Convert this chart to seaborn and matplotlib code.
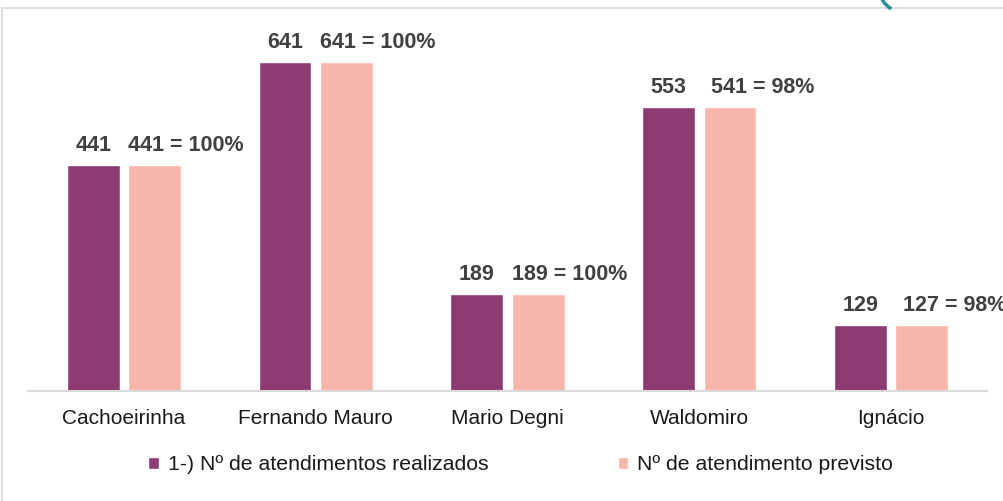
import pandas as pd
import seaborn as sns
import matplotlib.pyplot as plt
from matplotlib.patches import Rectangle, Arc

escolas = ["Cachoeirinha", "Fernando Mauro", "Mario Degni", "Waldomiro", "Ignácio"]
realizados = [441, 641, 189, 553, 129]
#pink bars are drawn at the same height as the realized ones in the original
previsto_altura = [441, 641, 189, 553, 129]
previsto_rotulo = ["441 = 100%", "641 = 100%", "189 = 100%", "541 = 98%", "127 = 98%"]
serie_a = "1-) Nº de atendimentos realizados"
serie_b = "Nº de atendimento previsto"

cor_a = "#8E3A73"
cor_b = "#F8B6AB"

sns.set_style("white")
plt.rcParams["font.family"] = ["Liberation Sans", "DejaVu Sans"]

df = pd.DataFrame({
    "escola": escolas * 2,
    "valor": realizados + previsto_altura,
    "serie": [serie_a] * len(escolas) + [serie_b] * len(escolas),
})

fig = plt.figure(figsize=(10.04, 5.01), dpi=100)
ax = fig.add_axes([0.0279, 0.2196, 0.9552, 0.7404])

sns.barplot(data=df, x="escola", y="valor", hue="serie",
            palette=[cor_a, cor_b], width=0.64, gap=0.14,
            saturation=1, ax=ax)

ax.set_ylim(0, 723)
ax.set_xlim(-0.5, len(escolas) - 0.5)
ax.set_xlabel("")
ax.set_ylabel("")
ax.set_yticks([])
sns.despine(ax=ax, left=True)
ax.spines["bottom"].set_color("#d9d9d9")
ax.spines["bottom"].set_linewidth(1.5)
ax.tick_params(axis="x", length=0, pad=13, labelsize=15, labelcolor="#1a1a1a")

#value labels
for bar, v in zip(ax.containers[0], realizados):
    ax.annotate(str(v), (bar.get_x() + bar.get_width() / 2, bar.get_height()),
                xytext=(0, 10), textcoords="offset points",
                ha="center", va="baseline", fontsize=15.5, fontweight="bold",
                color="#404040", annotation_clip=False)
for bar, txt in zip(ax.containers[1], previsto_rotulo):
    dx = 0 if "100%" in txt else 5.5
    ax.annotate(txt, (bar.get_x(), bar.get_height()),
                xytext=(dx, 10), textcoords="offset points",
                ha="left", va="baseline", fontsize=15.5, fontweight="bold",
                color="#404040", annotation_clip=False)

sns.move_legend(ax, "center", bbox_to_anchor=(0.5185, 0.072),
                bbox_transform=fig.transFigure, ncol=2, frameon=False,
                title=None, fontsize=15.3, handlelength=0.5, handleheight=0.5,
                handletextpad=0.4, columnspacing=6.1)
for t in ax.get_legend().get_texts():
    t.set_color("#1a1a1a")

#light frame around the chart area, like the original slide
fig.patches.append(Rectangle((2 / 1004, -0.1), 1.2, (493 / 501) + 0.1,
                             transform=fig.transFigure, fill=False,
                             edgecolor="#dedede", linewidth=1.5))
fig.patches.append(Arc((905 / 1004, 1.02), 0.05, 0.09, theta1=180, theta2=250,
                       transform=fig.transFigure, color="#2a8a9c", linewidth=2.5))

fig.savefig("out.png", dpi=100)
